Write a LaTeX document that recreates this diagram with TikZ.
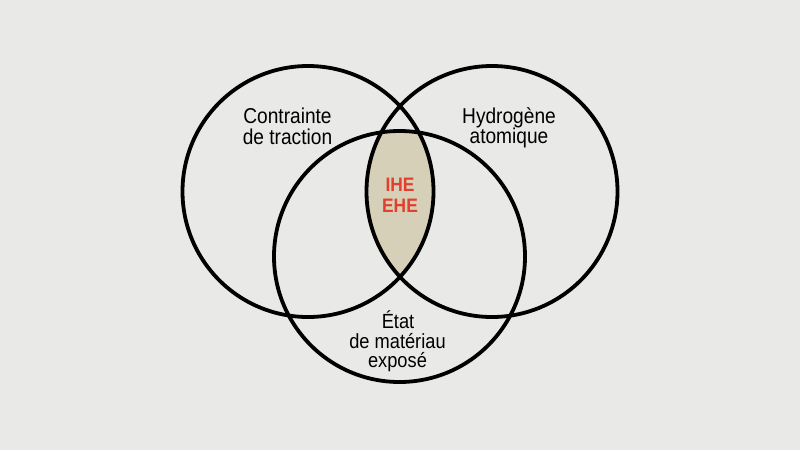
\documentclass[tikz,border=0pt]{standalone}
\usepackage{fontspec}
\setmainfont{Liberation Sans}[FakeStretch=0.89]
\definecolor{bgcol}{HTML}{E9E9E7}
\definecolor{lenscol}{HTML}{D6D0B8}
\definecolor{redtxt}{HTML}{E0402D}
\tikzset{
  ring/.style={draw=black, line width=3.8pt},
  lbl/.style={anchor=base, inner sep=0pt, font=\fontsize{21.5}{21}\selectfont},
  lblb/.style={anchor=base, inner sep=0pt, font=\fontsize{20.5}{20}\selectfont},
  key/.style={anchor=base, inner sep=0pt, text=redtxt, font=\fontsize{19.5}{20}\selectfont\bfseries}
}
\begin{document}
\begin{tikzpicture}[x=1pt,y=-1pt]
\fill[bgcol] (0,0) rectangle (800,450);
\useasboundingbox (0,0) rectangle (800,450);
\coordinate (cl) at (308,191.5);
\coordinate (cr) at (492,191.5);
\coordinate (cb) at (399.5,256.5);
% shaded triple intersection
\begin{scope}
  \clip (cl) circle (125.5);
  \clip (cr) circle (125.5);
  \fill[lenscol] (cb) circle (125.5);
\end{scope}
\draw[ring] (cl) circle (125.5);
\draw[ring] (cr) circle (125.5);
\draw[ring] (cb) circle (125.5);
% labels
\node[lbl] (ct1) at (287.5,123.3) {Contrainte};
\node[lbl] (ct2) at (287.5,144.3) {de traction};
\node[lbl] (ha1) at (509,123.3) {Hydrogène};
\node[lbl] (ha2) at (509,143.8) {atomique};
\node[lblb] (em1) at (398,328.3) {État};
\node[lblb] (em2) at (397.5,348.1) {de matériau};
\node[lblb] (em3) at (397.5,367.3) {exposé};
\node[key] (ihe) at (400,191.7) {IHE};
\node[key] (ehe) at (400,212.3) {EHE};
\end{tikzpicture}
\end{document}
